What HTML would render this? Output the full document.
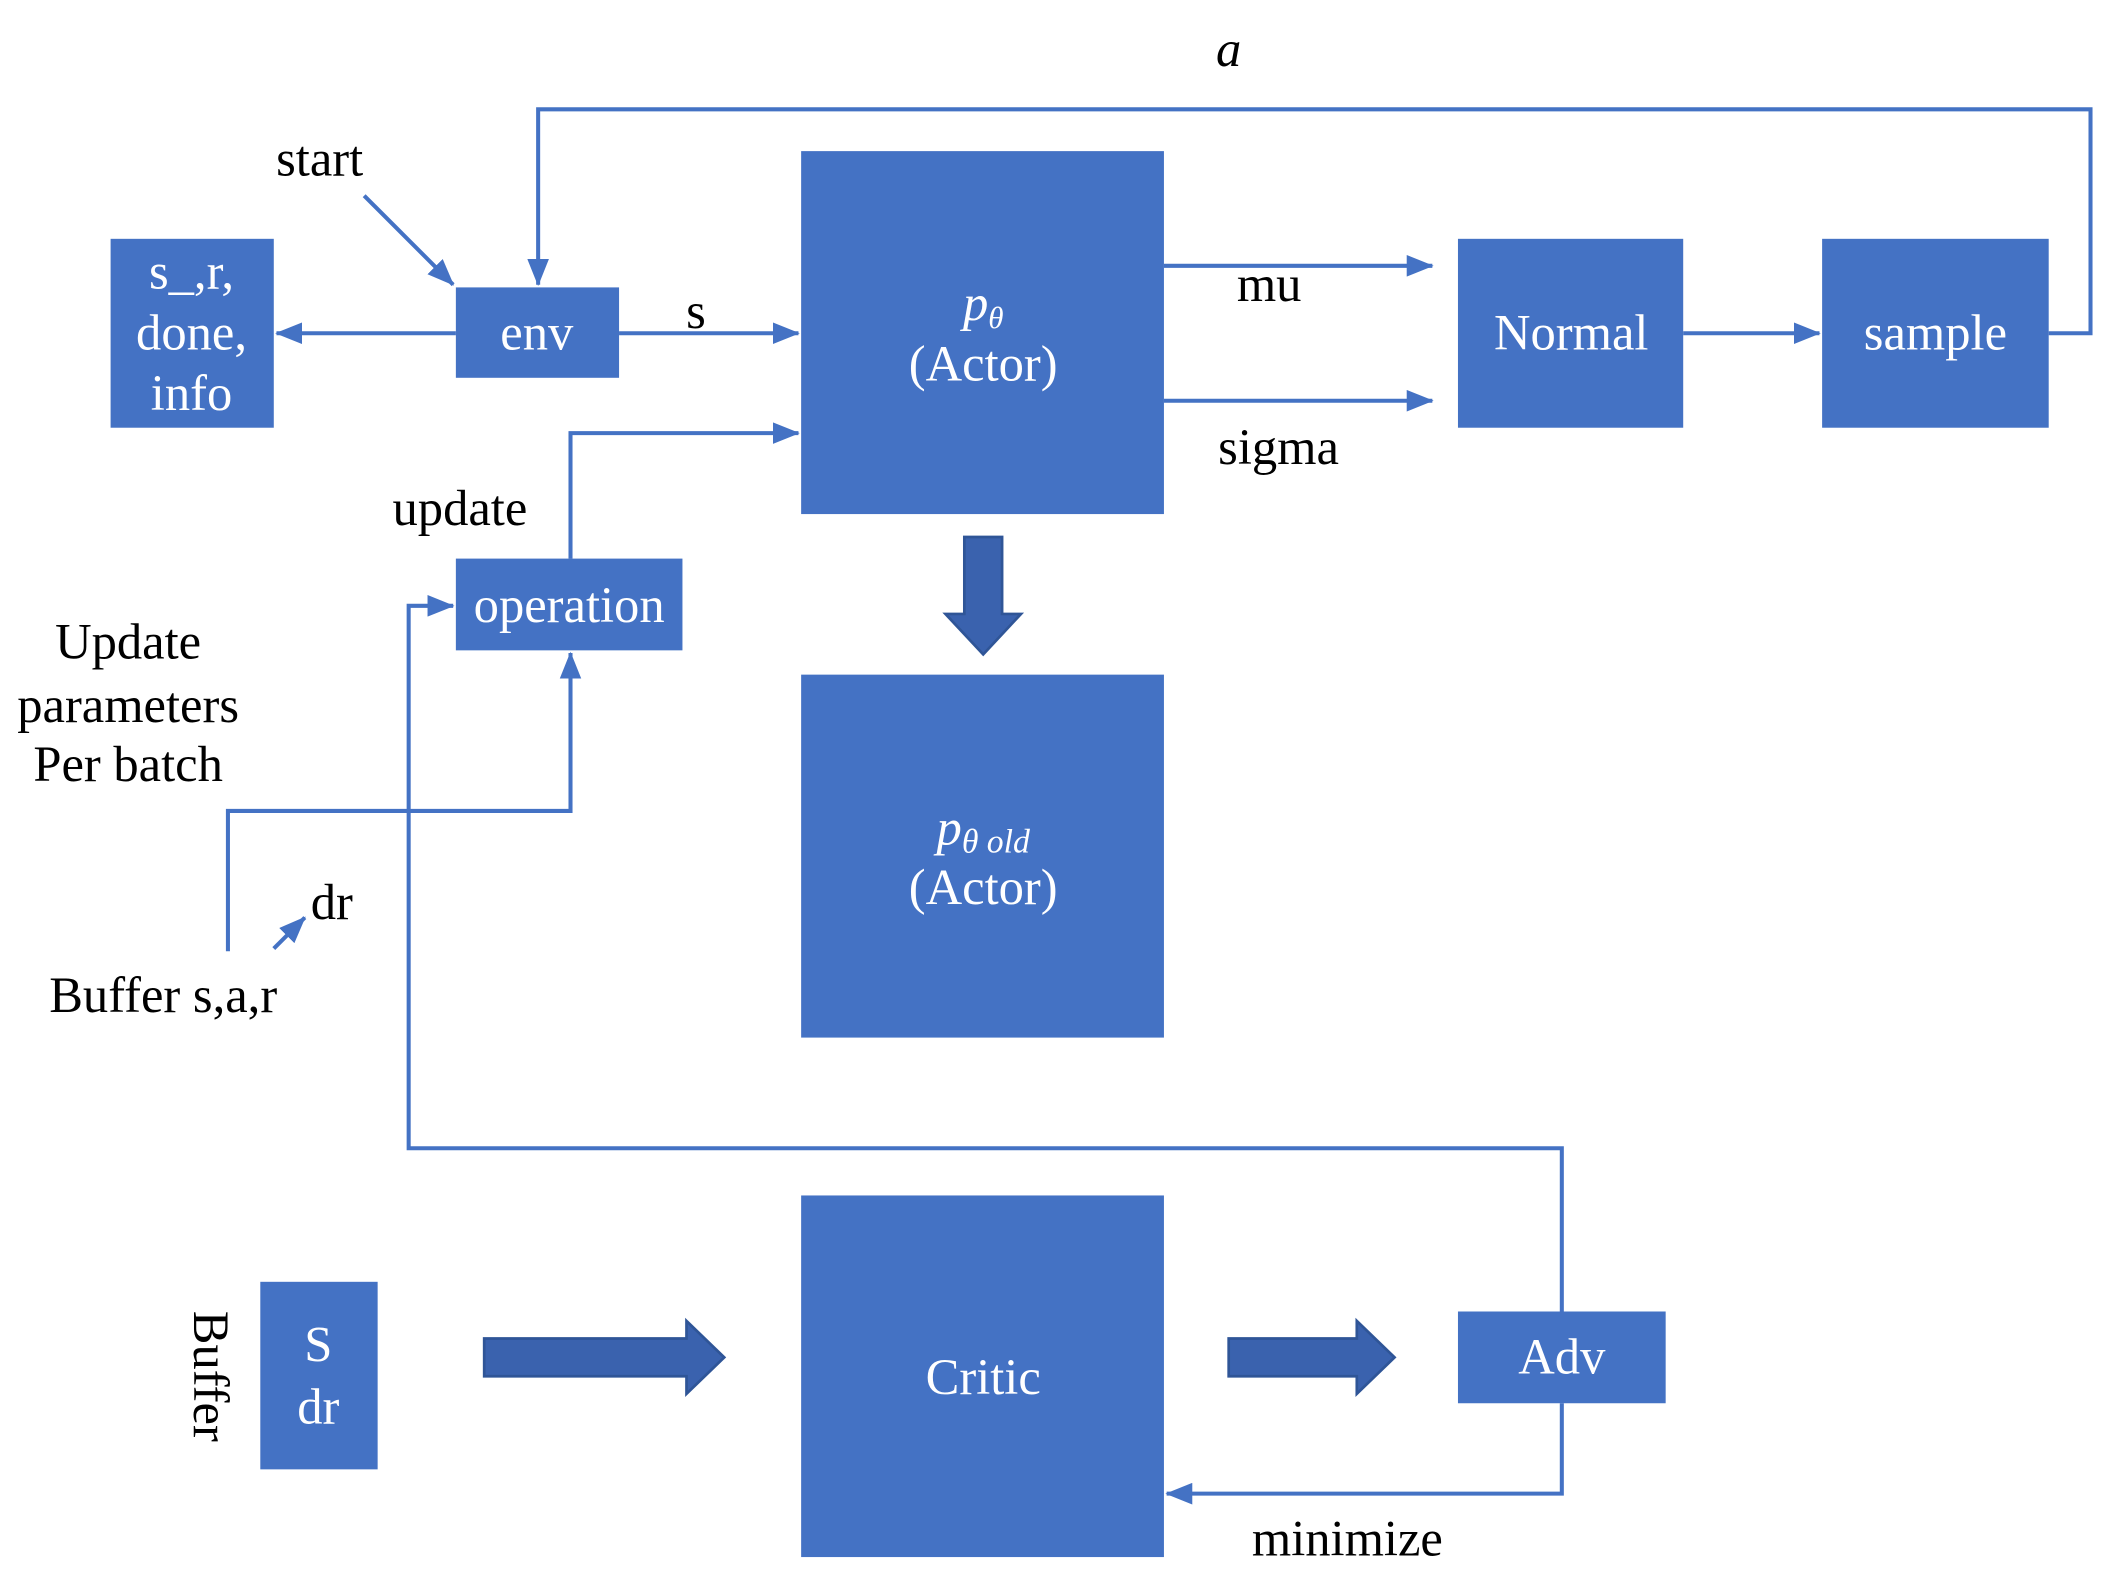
<!DOCTYPE html>
<html><head><meta charset="utf-8"><style>
html,body{margin:0;padding:0;background:#fff;}
svg{display:block;}
text{font-family:"Liberation Serif",serif;font-size:37.5px;}
.w{fill:#fff;}
.k{fill:#000;}
</style></head><body>
<svg width="2104" height="1580" viewBox="0 0 1560 1171" preserveAspectRatio="none" xmlns="http://www.w3.org/2000/svg">
<defs>
<marker id="ah2" markerWidth="20" markerHeight="16" refX="19" refY="8" orient="auto" markerUnits="userSpaceOnUse" viewBox="0 0 20 16">
<path d="M0,0 L20,8 L0,16 z" fill="#4472C4"/>
</marker>
</defs>
<g fill="#4472C4">
<rect x="82" y="177" width="121" height="140"/>
<rect x="338" y="213" width="121" height="67"/>
<rect x="594" y="112" width="269" height="269"/>
<rect x="1081" y="177" width="167" height="140"/>
<rect x="1351" y="177" width="168" height="140"/>
<rect x="338" y="414" width="168" height="68"/>
<rect x="594" y="500" width="269" height="269"/>
<rect x="594" y="886" width="269" height="268"/>
<rect x="193" y="950" width="87" height="139"/>
<rect x="1081" y="972" width="154" height="68"/>
</g>
<g fill="none" stroke="#4472C4" stroke-width="3">
<path d="M1519,247 H1550 V81 H399 V211" marker-end="url(#ah2)"/>
<path d="M270,145 L336,211" marker-end="url(#ah2)"/>
<path d="M338,247 H205" marker-end="url(#ah2)"/>
<path d="M459,247 H592" marker-end="url(#ah2)"/>
<path d="M863,197 H1062" marker-end="url(#ah2)"/>
<path d="M863,297 H1062" marker-end="url(#ah2)"/>
<path d="M1248,247 H1349" marker-end="url(#ah2)"/>
<path d="M423,414 V321 H592" marker-end="url(#ah2)"/>
<path d="M169,705 V601 H423 V484" marker-end="url(#ah2)"/>
<path d="M203,703 L226,680" marker-end="url(#ah2)"/>
<path d="M1158,972 V851 H303 V449 H336" marker-end="url(#ah2)"/>
<path d="M1158,1040 V1107 H865" marker-end="url(#ah2)"/>
</g>
<g fill="#3A62AE" stroke="#2F5597" stroke-width="2">
<path d="M715,398 H743 V455 H757 L729,485 L701,455 H715 Z"/>
<path d="M359,992 H509 V979 L537,1006 L509,1033 V1020 H359 Z"/>
<path d="M911,992 H1006 V979 L1034,1006 L1006,1033 V1020 H911 Z"/>
</g>
<g text-anchor="middle">
<text class="w" x="142" y="214">s_,r,</text>
<text class="w" x="142" y="259">done,</text>
<text class="w" x="142" y="304">info</text>
<text class="w" x="398" y="259">env</text>
<text class="w" x="729" y="237" font-style="italic">p<tspan font-size="23" dy="6">θ</tspan></text>
<text class="w" x="729" y="282">(Actor)</text>
<text class="w" x="1165" y="259">Normal</text>
<text class="w" x="1435" y="259">sample</text>
<text class="w" x="422" y="461">operation</text>
<text class="w" x="729" y="626" font-style="italic">p<tspan font-size="25" dy="6">θ old</tspan></text>
<text class="w" x="729" y="670">(Actor)</text>
<text class="w" x="729" y="1033">Critic</text>
<text class="w" x="236" y="1009">S</text>
<text class="w" x="236" y="1055">dr</text>
<text class="w" x="1158" y="1018">Adv</text>
<text class="k" x="911" y="49" font-style="italic">a</text>
<text class="k" x="237" y="130">start</text>
<text class="k" x="516" y="243">s</text>
<text class="k" x="941" y="223">mu</text>
<text class="k" x="948" y="344">sigma</text>
<text class="k" x="341" y="389">update</text>
<text class="k" x="95" y="488">Update</text>
<text class="k" x="95" y="535">parameters</text>
<text class="k" x="95" y="579">Per batch</text>
<text class="k" x="246" y="681">dr</text>
<text class="k" x="121" y="750">Buffer s,a,r</text>
<text class="k" x="999" y="1153">minimize</text>
<text class="k" x="0" y="0" transform="translate(144,1020) rotate(90)">Buffer</text>
</g>
</svg>
</body></html>
